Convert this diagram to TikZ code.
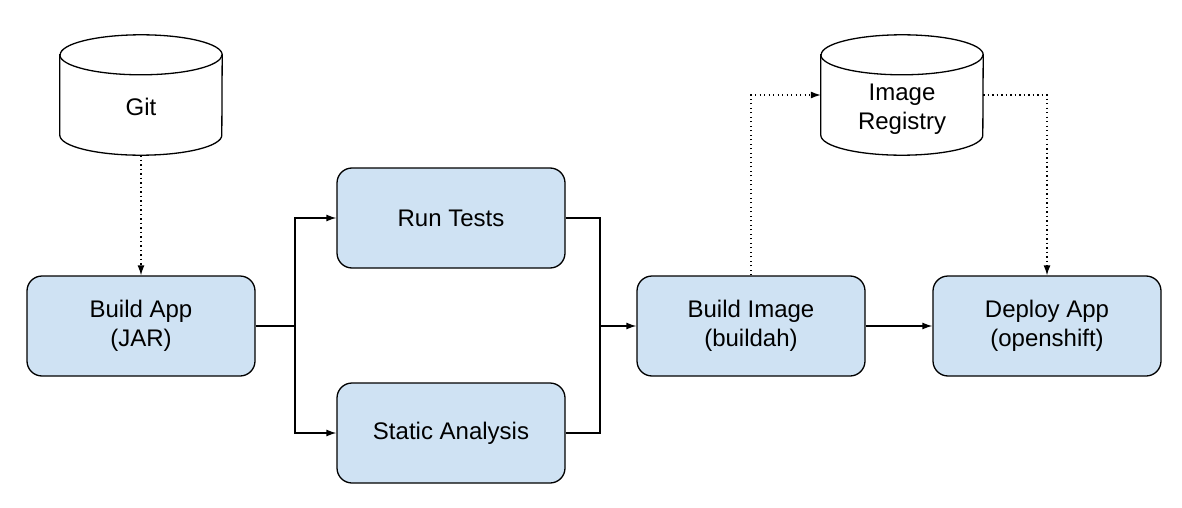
\documentclass[tikz,border=0pt]{standalone}
\usepackage{fontspec}
\setmainfont{Liberation Sans}
\usetikzlibrary{arrows.meta,calc}
\definecolor{boxblue}{HTML}{CFE2F3}
\tikzset{
  box/.style={draw=black, fill=boxblue, line width=1.3pt, rounded corners=15pt,
    minimum width=228pt, minimum height=100pt, align=center,
    font=\fontsize{24}{29}\selectfont, inner sep=0pt},
  cylbox/.style={minimum width=162pt, minimum height=120pt, inner sep=0pt},
  cyltext/.style={align=center, font=\fontsize{24}{29}\selectfont, inner sep=0pt},
  conn/.style={line width=1.3pt, -{Latex[length=10pt,width=7pt]}},
  plain/.style={line width=1.3pt},
  dotconn/.style={line width=1.3pt, dash pattern=on 1.3pt off 3.2pt, -{Latex[length=10pt,width=7pt]}},
}
\newcommand{\cylinderdraw}[1]{%
  \draw[line width=1.3pt, fill=white]
    ($(#1.north west)+(0,-20pt)$) -- ($(#1.south west)+(0,20pt)$)
    arc[start angle=180, end angle=360, x radius=81pt, y radius=20pt]
    -- ($(#1.north east)+(0,-20pt)$)
    arc[start angle=0, end angle=180, x radius=81pt, y radius=20pt] -- cycle;
  \draw[line width=1.3pt] ($(#1.north west)+(0,-20pt)$)
    arc[start angle=180, end angle=360, x radius=81pt, y radius=20pt];
}
\begin{document}
\begin{tikzpicture}[x=1pt,y=1pt]
\useasboundingbox (0,0) rectangle (1182,-508);
% cylinders
\node[cylbox] (git) at (141,-95) {};
\cylinderdraw{git}
\node[cyltext] (gitlabel) at (141,-107) {Git};
\node[cylbox] (reg) at (902,-95) {};
\cylinderdraw{reg}
\node[cyltext] (reglabel) at (902,-109) {Image\\Registry};
% boxes
\node[box] (build) at (141,-326) {Build App\\(JAR)};
\node[box] (tests) at (451,-218) {Run Tests};
\node[box] (static) at (451,-433) {Static Analysis};
\node[box] (image) at (751,-326) {Build Image\\(buildah)};
\node[box] (deploy) at (1047,-326) {Deploy App\\(openshift)};
% junctions
\coordinate (j1) at (295,-326);
\coordinate (j2) at (600,-326);
% connectors
\draw[dotconn] (git.south) -- (build.north);
\draw[plain] (build.east) -- (j1);
\draw[conn] (j1) |- (tests.west);
\draw[conn] (j1) |- (static.west);
\draw[plain] (tests.east) -| (j2);
\draw[plain] (static.east) -| (j2);
\draw[conn] (j2) -- (image.west);
\draw[conn] (image.east) -- (deploy.west);
\draw[dotconn] (image.north) |- (reg.west);
\draw[dotconn] (reg.east) -| (deploy.north);
\end{tikzpicture}
\end{document}
